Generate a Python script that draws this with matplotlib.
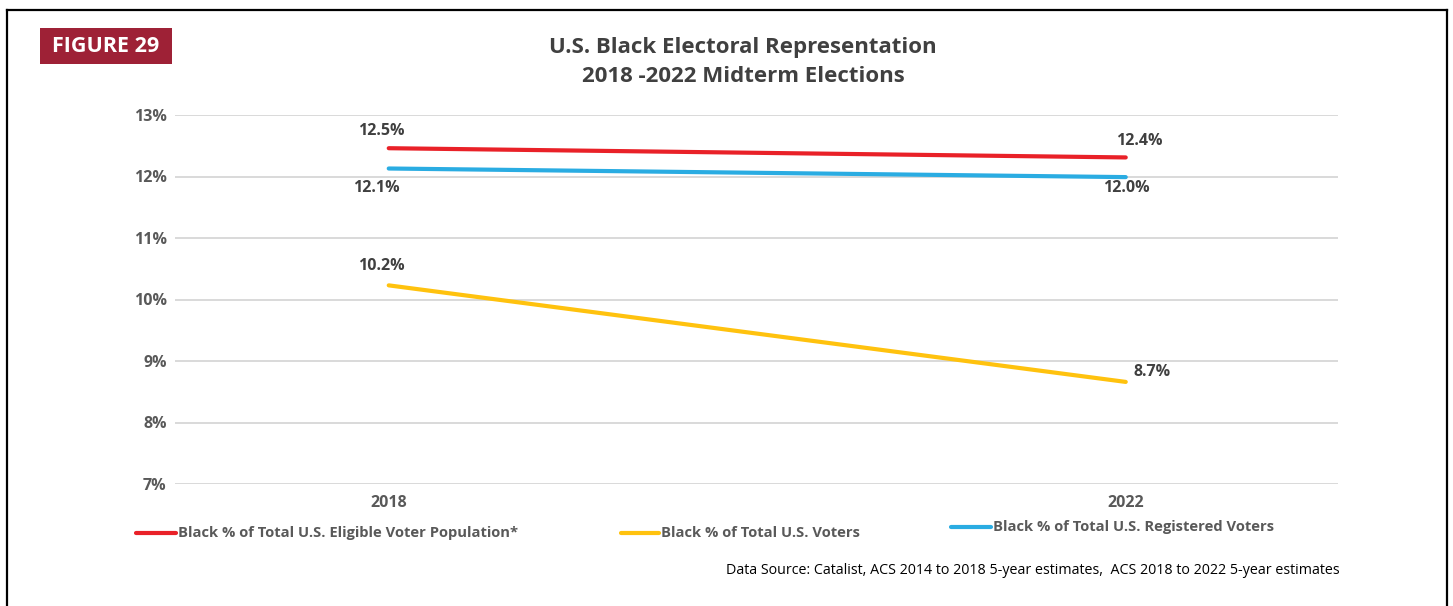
import matplotlib.pyplot as plt
from matplotlib.lines import Line2D
from matplotlib.patches import Rectangle

# data
years = ["2018", "2022"]
series_names = [
    "Black % of Total U.S. Eligible Voter Population*",
    "Black % of Total U.S. Voters",
    "Black % of Total U.S. Registered Voters",
]
eligible = [12.46, 12.31]
voters = [10.23, 8.66]
registered = [12.13, 11.99]
eligible_labels = ["12.5%", "12.4%"]
voters_labels = ["10.2%", "8.7%"]
registered_labels = ["12.1%", "12.0%"]
y_ticks = [7, 8, 9, 10, 11, 12, 13]

RED = "#E92128"
YELLOW = "#FFC20E"
BLUE = "#2AACE2"
DARK = "#404040"
GRAY = "#595959"

plt.rcParams['font.family'] = ['Open Sans', 'DejaVu Sans']

W, H = 1453, 606
fig = plt.figure(figsize=(W / 100, H / 100), dpi=100)

def fx(px):
    return px / W

def fy(py):
    return 1 - py / H

ax = fig.add_axes([fx(175), fy(484), fx(1338) - fx(175), fy(115) - fy(484)])

x = [0, 1]
ax.plot(x, eligible, color=RED, lw=3.0, solid_capstyle='round', zorder=3)
ax.plot(x, voters, color=YELLOW, lw=3.0, solid_capstyle='round', zorder=3)
ax.plot(x, registered, color=BLUE, lw=3.0, solid_capstyle='round', zorder=3)

ax.set_xlim(-0.29, 1.288)
ax.set_ylim(7, 13)
ax.set_yticks(y_ticks)
ax.set_yticklabels([f"{t}%" for t in y_ticks])
ax.set_xticks(x)
ax.set_xticklabels(years)
ax.tick_params(length=0, colors=GRAY, labelsize=11.5)
ax.tick_params(axis='y', pad=6)
ax.tick_params(axis='x', pad=8)
for lab in ax.get_xticklabels() + ax.get_yticklabels():
    lab.set_fontweight('bold')
ax.grid(axis='y', color='#D9D9D9', lw=1.4)
ax.set_axisbelow(True)
for s in ax.spines.values():
    s.set_visible(False)

# data labels (pixel offsets from the points)
def label(xv, yv, txt, dx, dy, ha='center'):
    ax.annotate(txt, (xv, yv), xytext=(dx, dy), textcoords='offset pixels',
                ha=ha, va='center', fontsize=11.5, fontweight='bold', color=DARK)

label(0, eligible[0], eligible_labels[0], -7, 17)
label(1, eligible[1], eligible_labels[1], 14, 16)
label(0, registered[0], registered_labels[0], -12, -19)
label(1, registered[1], registered_labels[1], 1, -11)
label(0, voters[0], voters_labels[0], -7, 19)
label(1, voters[1], voters_labels[1], 8, 10, ha='left')

# title
fig.text(fx(743), fy(47), "U.S. Black Electoral Representation", ha='center', va='center',
         fontsize=16, fontweight='bold', color=DARK)
fig.text(fx(743), fy(77), "2018 -2022 Midterm Elections", ha='center', va='center',
         fontsize=16, fontweight='bold', color=DARK)

# figure tag
fig.add_artist(Rectangle((fx(40), fy(64)), fx(172) - fx(40), fy(28) - fy(64),
                         transform=fig.transFigure, color='#9E2136', lw=0))
fig.text(fx(106), fy(46), "FIGURE 29", ha='center', va='center',
         fontsize=15.5, fontweight='bold', color='white')

# frame around the figure (open at the bottom)
for xs, ys in [((7, 7), (10, 606)), ((7, 1447), (10, 10)), ((1447, 1447), (10, 606))]:
    fig.add_artist(Line2D([fx(v) for v in xs], [fy(v) for v in ys],
                          transform=fig.transFigure, color='black', lw=1.6))

# legend
legend_pos = [(136, 176, 533), (621, 659, 533), (951, 991, 527)]
for (x0, x1, yy), name, c in zip(legend_pos, series_names, [RED, YELLOW, BLUE]):
    fig.add_artist(Line2D([fx(x0), fx(x1)], [fy(yy), fy(yy)], transform=fig.transFigure,
                          color=c, lw=3.0, solid_capstyle='round'))
    fig.text(fx(x1 + 2), fy(yy), name, ha='left', va='center', fontsize=10.6,
             fontweight='bold', color=GRAY)

fig.text(fx(1340), fy(570),
         "Data Source: Catalist, ACS 2014 to 2018 5-year estimates,  ACS 2018 to 2022 5-year estimates",
         ha='right', va='center', fontsize=10.3, color='black')

fig.savefig("out.png", dpi=100, facecolor='white')
